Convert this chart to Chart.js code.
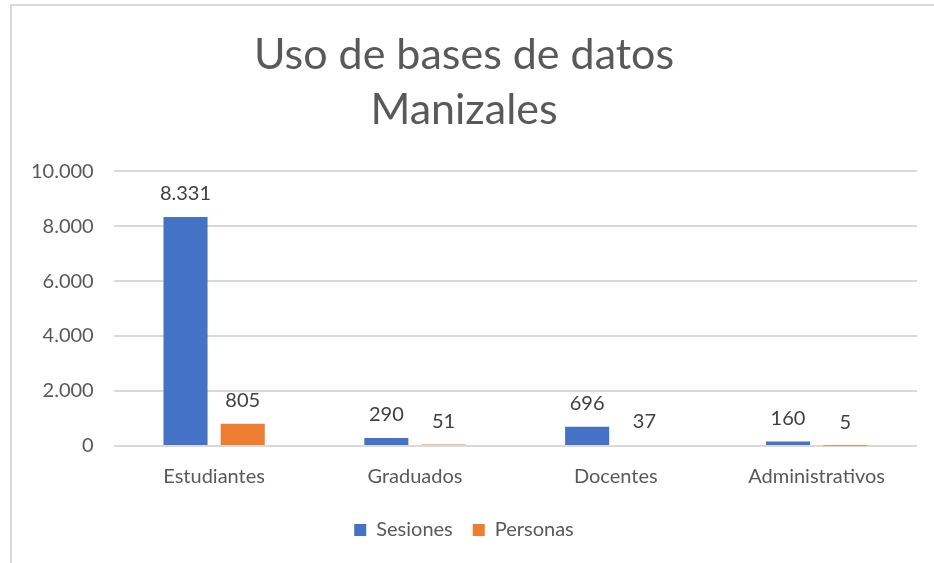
<!DOCTYPE html>
<html>
<head>
<meta charset="utf-8">
<script src="https://cdn.jsdelivr.net/npm/chart.js@4.4.0/dist/chart.umd.min.js"></script>
<style>
  html, body { margin: 0; padding: 0; background: #fff; }
  #wrap { position: relative; width: 934px; height: 563px; overflow: hidden; }
  #frame { position: absolute; left: 10px; top: 4px; width: 940px; height: 580px; border: 2px solid #d9d9d9; box-sizing: border-box; }
  canvas { position: absolute; left: 0; top: 0; }
</style>
</head>
<body>
<div id="wrap">
  <div id="frame"></div>
  <canvas id="chart" width="934" height="563"></canvas>
</div>
<script>
  // datos
  const categorias = ["Estudiantes", "Graduados", "Docentes", "Administrativos"];
  const sesiones = [8331, 290, 696, 160];
  const personas = [805, 51, 37, 5];
  const ticksY = [0, 2000, 4000, 6000, 8000, 10000];

  function fmt(v) {
    return String(v).replace(/\B(?=(\d{3})+(?!\d))/g, ".");
  }

  const FONT = "Lato, 'Open Sans', sans-serif";

  const etiquetas = {
    id: 'etiquetas',
    afterDatasetsDraw(chart) {
      const ctx = chart.ctx;
      ctx.save();
      ctx.font = "20px " + FONT;
      ctx.fillStyle = "#404040";
      ctx.textAlign = "center";
      ctx.textBaseline = "bottom";
      chart.data.datasets.forEach((ds, i) => {
        chart.getDatasetMeta(i).data.forEach((bar, j) => {
          ctx.fillText(fmt(ds.data[j]), bar.x, bar.y - 13);
        });
      });
      ctx.restore();
    }
  };

  new Chart(document.getElementById('chart'), {
    type: 'bar',
    data: {
      labels: categorias,
      datasets: [
        { label: "Sesiones", data: sesiones, backgroundColor: "#4472c4" },
        { label: "Personas", data: personas, backgroundColor: "#ed7d31" }
      ]
    },
    options: {
      responsive: false,
      animation: false,
      layout: { padding: { left: 11, right: 17, top: 28, bottom: 13 } },
      datasets: { bar: { categoryPercentage: 0.57, barPercentage: 0.77 } },
      plugins: {
        title: {
          display: true,
          text: ["Uso de bases de datos", "Manizales"],
          color: "#595959",
          font: { family: FONT, size: 43, weight: 'normal', lineHeight: 1.28 },
          padding: { top: 0, bottom: 33 }
        },
        legend: {
          position: 'bottom',
          labels: {
            color: "#595959",
            font: { family: FONT, size: 20 },
            boxWidth: 12, boxHeight: 12, padding: 20
          }
        },
        tooltip: { enabled: false }
      },
      scales: {
        x: {
          grid: { display: false },
          border: { display: false },
          ticks: { color: "#595959", font: { family: FONT, size: 20 }, padding: 11 }
        },
        y: {
          min: 0, max: 10000,
          afterBuildTicks(axis) { axis.ticks = ticksY.map(v => ({ value: v })); },
          grid: { color: "#d9d9d9", lineWidth: 2, drawTicks: false },
          border: { display: false },
          ticks: { color: "#595959", font: { family: FONT, size: 20 }, padding: 20, callback: v => fmt(v) }
        }
      }
    },
    plugins: [etiquetas]
  });
</script>
</body>
</html>
